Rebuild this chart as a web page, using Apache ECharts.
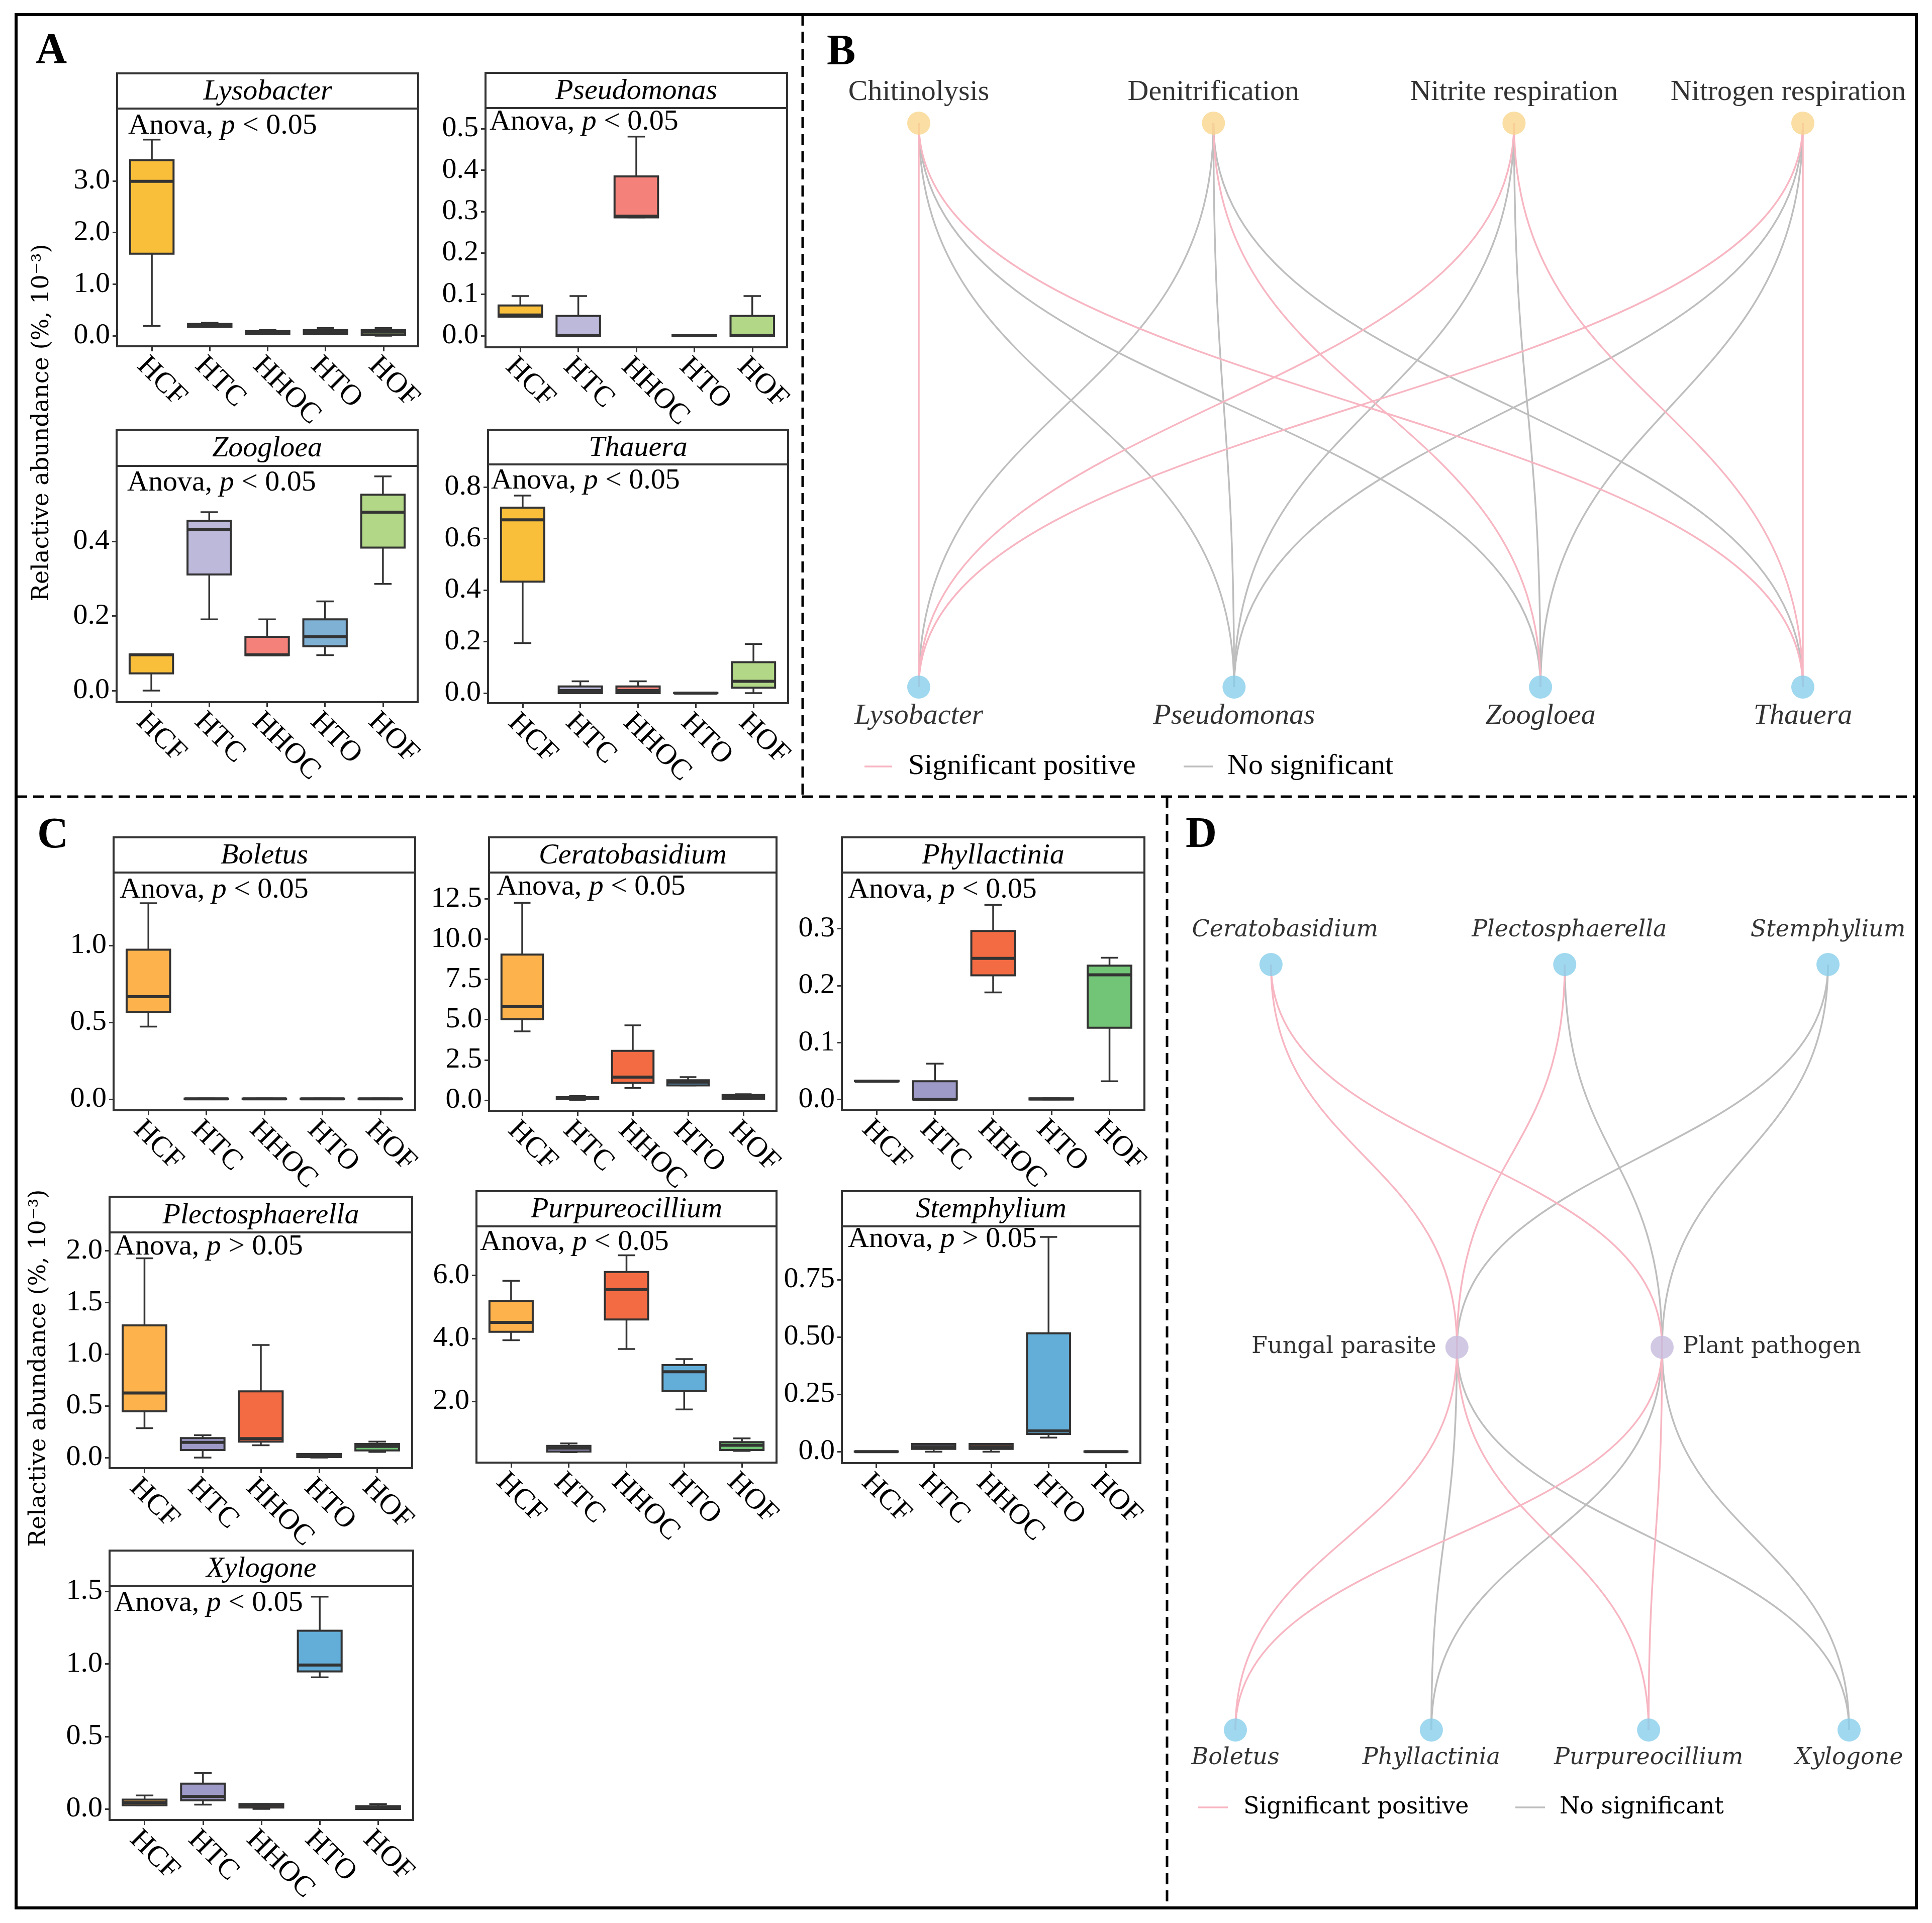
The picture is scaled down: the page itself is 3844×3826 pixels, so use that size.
<!DOCTYPE html>
<html><head><meta charset="utf-8">
<script src="https://cdn.jsdelivr.net/npm/echarts@6/dist/echarts.min.js"></script>
<style>html,body{margin:0;padding:0;background:#fff}#c{width:3844px;height:3826px}</style>
</head><body><div id="c"></div>
<script>
// ---------------- DATA ----------------
const groups = ['HCF', 'HTC', 'HHOC', 'HTO', 'HOF'];
// each row: [lower whisker, Q1, median, Q3, upper whisker]  (%, 10^-3)
const lysobacter = [[0.19,1.59,2.99,3.40,3.80],[0.17,0.17,0.20,0.23,0.25],[0.03,0.03,0.06,0.09,0.11],[0.03,0.03,0.07,0.11,0.15],[0.0,0.01,0.07,0.11,0.15]];
const pseudomonas = [[0.046,0.046,0.05,0.073,0.096],[0.0,0.0,0.001,0.048,0.096],[0.286,0.286,0.289,0.385,0.481],[0,0,0,0.001,0.001],[0.0,0.0,0.001,0.048,0.096]];
const zoogloea = [[0.0,0.046,0.096,0.097,0.097],[0.191,0.311,0.431,0.455,0.478],[0.095,0.095,0.096,0.144,0.191],[0.095,0.119,0.144,0.191,0.239],[0.286,0.383,0.478,0.525,0.574]];
const thauera = [[0.194,0.433,0.673,0.720,0.767],[0.0,0.0,0.01,0.026,0.046],[0.0,0.0,0.01,0.026,0.046],[0,0,0,0.001,0.001],[0.0,0.021,0.046,0.12,0.191]];
const boletus = [[0.472,0.567,0.667,0.972,1.275],[0,0,0.002,0.004,0.005],[0,0,0.002,0.004,0.005],[0,0,0.002,0.004,0.005],[0,0,0.002,0.004,0.005]];
const ceratobasidium = [[4.27,5.02,5.81,9.04,12.26],[0.02,0.06,0.12,0.18,0.25],[0.75,1.07,1.43,3.06,4.65],[0.92,0.92,1.11,1.24,1.43],[0.05,0.08,0.19,0.32,0.37]];
const phyllactinia = [[0.032,0.032,0.032,0.033,0.033],[0.0,0.0,0.0,0.032,0.063],[0.188,0.218,0.248,0.296,0.342],[0,0,0.001,0.002,0.002],[0.032,0.126,0.219,0.235,0.249]];
const plectosphaerella = [[0.284,0.447,0.624,1.278,1.927],[0.0,0.073,0.147,0.188,0.216],[0.119,0.154,0.183,0.64,1.089],[0.0,0.005,0.02,0.034,0.034],[0.055,0.069,0.108,0.131,0.154]];
const purpureocillium = [[3.94,4.21,4.51,5.19,5.83],[0.38,0.40,0.51,0.58,0.66],[3.66,4.60,5.55,6.11,6.64],[1.74,2.32,2.94,3.15,3.34],[0.42,0.45,0.60,0.70,0.82]];
const stemphylium = [[0,0,0,0.001,0.001],[0.0,0.012,0.022,0.033,0.033],[0.0,0.012,0.022,0.033,0.033],[0.061,0.077,0.09,0.516,0.936],[0,0,0,0.001,0.001]];
const xylogone = [[0.025,0.025,0.044,0.064,0.093],[0.030,0.059,0.086,0.174,0.247],[0.0,0.01,0.025,0.034,0.034],[0.907,0.948,0.992,1.229,1.464],[0.0,0.0,0.01,0.019,0.034]];

const panelNames = ['Lysobacter','Pseudomonas','Zoogloea','Thauera','Boletus','Ceratobasidium','Phyllactinia','Plectosphaerella','Purpureocillium','Stemphylium','Xylogone'];
const panelData = [lysobacter,pseudomonas,zoogloea,thauera,boletus,ceratobasidium,phyllactinia,plectosphaerella,purpureocillium,stemphylium,xylogone];
const anovaOps = ['<','<','<','<','<','<','<','>','<','>','<'];

// y tick values and labels
const yTicks = [[0,1,2,3],[0,0.1,0.2,0.3,0.4,0.5],[0,0.2,0.4],[0,0.2,0.4,0.6,0.8],[0,0.5,1.0],[0,2.5,5,7.5,10,12.5],[0,0.1,0.2,0.3],[0,0.5,1,1.5,2],[2,4,6],[0,0.25,0.5,0.75],[0,0.5,1,1.5]];
const yTickLabels = [['0.0','1.0','2.0','3.0'],['0.0','0.1','0.2','0.3','0.4','0.5'],['0.0','0.2','0.4'],['0.0','0.2','0.4','0.6','0.8'],['0.0','0.5','1.0'],['0.0','2.5','5.0','7.5','10.0','12.5'],['0.0','0.1','0.2','0.3'],['0.0','0.5','1.0','1.5','2.0'],['2.0','4.0','6.0'],['0.0','0.25','0.50','0.75'],['0.0','0.5','1.0','1.5']];

// networks
const bTop = ['Chitinolysis','Denitrification','Nitrite respiration','Nitrogen respiration'];
const bBottom = ['Lysobacter','Pseudomonas','Zoogloea','Thauera'];
// [top index, bottom index, significant(1)/not(0)]
const bEdges = [[0,1,0],[0,2,0],[1,0,0],[1,1,0],[1,3,0],[2,1,0],[2,2,0],[3,1,0],[3,2,0],[0,0,1],[0,3,1],[1,2,1],[2,0,1],[2,3,1],[3,0,1],[3,3,1]];
const dTop = ['Ceratobasidium','Plectosphaerella','Stemphylium'];
const dMid = ['Fungal parasite','Plant pathogen'];
const dBottom = ['Boletus','Phyllactinia','Purpureocillium','Xylogone'];
const dEdgesTop = [[1,1,0],[2,0,0],[2,1,0],[0,0,1],[0,1,1],[1,0,1]];
const dEdgesBottom = [[0,1,0],[0,3,0],[1,1,0],[1,3,0],[0,0,1],[0,2,1],[1,0,1],[1,2,1]];
const edgeLegend = ['Significant positive','No significant'];

// ---------------- LAYOUT / STYLE ----------------
const palA = ['#F9BF3B','#BDB9DB','#F4817A','#7FB1D5','#B2D887'];
const palC = ['#FDB24B','#9E9AC8','#F36B43','#63AED9','#72C476'];
const layout = [
  {l:233,t:216,r:832,b:689,st:146,ann:[255,251],ymin:-0.204,ymax:4.40,pal:palA},
  {l:966,t:215,r:1566,b:691,st:145,ann:[974,243],ymin:-0.028,ymax:0.550,pal:palA},
  {l:232,t:927,r:831,b:1397,st:855,ann:[253,961],ymin:-0.031,ymax:0.602,pal:palA},
  {l:971,t:924,r:1568,b:1399,st:855,ann:[977,957],ymin:-0.039,ymax:0.888,pal:palA},
  {l:226,t:1736,r:826,b:2209,st:1666,ann:[238,1771],ymin:-0.072,ymax:1.474,pal:palC},
  {l:973,t:1736,r:1545,b:2210,st:1666,ann:[988,1765],ymin:-0.66,ymax:14.14,pal:palC},
  {l:1675,t:1736,r:2277,b:2208,st:1666,ann:[1687,1771],ymin:-0.018,ymax:0.3986,pal:palC},
  {l:218,t:2452,r:820,b:2921,st:2381,ann:[227,2481],ymin:-0.102,ymax:2.177,pal:palC},
  {l:948,t:2440,r:1545,b:2910,st:2370,ann:[955,2472],ymin:0.05,ymax:7.56,pal:palC},
  {l:1675,t:2440,r:2269,b:2911,st:2370,ann:[1687,2466],ymin:-0.05,ymax:0.982,pal:palC},
  {l:218,t:3155,r:822,b:3621,st:3085,ann:[227,3190],ymin:-0.076,ymax:1.539,pal:palC}
];
const SERIF = 'Liberation Serif';
const WIDE = 'DejaVu Serif';
const PINK = '#F7B6C2', GRAY = '#BEBEBE';
const dark = '#333333';

const grids = [], xAxes = [], yAxes = [], series = [], graphics = [];

function nearestLabel(ticks, labels){
  return function(v){ let k=0,d=Infinity; ticks.forEach((t,i)=>{const e=Math.abs(t-v); if(e<d){d=e;k=i;}}); return labels[k]; };
}

function boxRenderer(pal){
  return function(params, api){
    const x = api.value(0);
    const lo=api.value(1), q1=api.value(2), md=api.value(3), q3=api.value(4), hi=api.value(5);
    const pLo=api.coord([x,lo]), pQ1=api.coord([x,q1]), pMd=api.coord([x,md]), pQ3=api.coord([x,q3]), pHi=api.coord([x,hi]);
    const bw = api.size([0.75,0])[0]/2, cw = api.size([0.3,0])[0]/2;
    const cx = pMd[0];
    const c = pal[Math.round(x)-1];
    return {type:'group', children:[
      {type:'line', shape:{x1:cx,y1:pLo[1],x2:cx,y2:pHi[1]}, style:{stroke:dark,lineWidth:3.5}},
      {type:'line', shape:{x1:cx-cw,y1:pHi[1],x2:cx+cw,y2:pHi[1]}, style:{stroke:dark,lineWidth:3.5}},
      {type:'line', shape:{x1:cx-cw,y1:pLo[1],x2:cx+cw,y2:pLo[1]}, style:{stroke:dark,lineWidth:3.5}},
      {type:'rect', shape:{x:cx-bw,y:pQ3[1],width:2*bw,height:Math.max(pQ1[1]-pQ3[1],0.5)}, style:{fill:c,stroke:dark,lineWidth:4}},
      {type:'line', shape:{x1:cx-bw,y1:pMd[1],x2:cx+bw,y2:pMd[1]}, style:{stroke:dark,lineWidth:6}}
    ]};
  };
}

panelNames.forEach((name, k) => {
  const L = layout[k];
  grids.push({left:L.l, top:L.t, width:L.r-L.l, height:L.b-L.t, show:true, borderColor:dark, borderWidth:4, backgroundColor:'transparent'});
  xAxes.push({gridIndex:k, type:'value', min:0.4, max:5.6, position:'bottom',
    axisLine:{show:false, onZero:false}, splitLine:{show:false},
    axisTick:{show:true, customValues:[1,2,3,4,5], length:10, lineStyle:{color:dark,width:3}},
    axisLabel:{show:true, customValues:[0.822,1.822,2.822,3.822,4.822], rotate:-45, margin:30,
      formatter:(v)=>groups[Math.round(v)-1], fontFamily:SERIF, fontSize:58, color:'#000'}});
  yAxes.push({gridIndex:k, type:'value', min:L.ymin, max:L.ymax, position:'left',
    axisLine:{show:false, onZero:false}, splitLine:{show:false},
    axisTick:{show:true, customValues:yTicks[k], length:9, lineStyle:{color:dark,width:3}},
    axisLabel:{show:true, customValues:yTicks[k], margin:14, formatter:nearestLabel(yTicks[k], yTickLabels[k]),
      fontFamily:SERIF, fontSize:58, color:'#000'}});
  series.push({type:'custom', xAxisIndex:k, yAxisIndex:k, clip:false, renderItem:boxRenderer(L.pal),
    encode:{x:0,y:[1,2,3,4,5]},
    data: panelData[k].map((r,i)=>[i+1].concat(r))});
  // strip
  graphics.push({type:'rect', z:5, shape:{x:L.l,y:L.st,width:L.r-L.l,height:L.t-L.st}, style:{fill:'#fff',stroke:dark,lineWidth:4}});
  graphics.push({type:'text', z:6, x:(L.l+L.r)/2, y:(L.st+L.t)/2+2, style:{text:name, fontFamily:SERIF, fontStyle:'italic', fontSize:58, fill:'#000', align:'center', verticalAlign:'middle'}});
  // annotation
  graphics.push({type:'text', z:6, x:L.ann[0], y:L.ann[1], style:{text:'{a|Anova, }{b|p}{a| '+anovaOps[k]+' 0.05}',
    rich:{a:{fontFamily:SERIF,fontSize:58,fill:'#000'}, b:{fontFamily:SERIF,fontStyle:'italic',fontSize:58,fill:'#000'}},
    align:'left', verticalAlign:'middle'}});
});

// ---------- network B ----------
const gB = grids.length;
grids.push({left:1828, top:245, width:1759, height:1122, show:false});
xAxes.push({gridIndex:gB, type:'value', min:0, max:3, show:false});
yAxes.push({gridIndex:gB, type:'value', min:0, max:1, show:false});
const bTopX = [0, 1, 2.02, 3], bBottomX = [0, 1.07, 2.11, 3];
// ---------- network D ----------
const gD = grids.length;
grids.push({left:2458, top:1919, width:1221, height:1523, show:false});
xAxes.push({gridIndex:gD, type:'value', min:0, max:3, show:false});
yAxes.push({gridIndex:gD, type:'value', min:0, max:2, show:false});
const dTopX = [0.174, 1.61, 2.897], dMidX = [1.083, 2.086], dBottomX = [0, 0.958, 2.02, 3];

function edgeRenderer(params, api){
  const p1 = api.coord([api.value(0), api.value(1)]);
  const p2 = api.coord([api.value(2), api.value(3)]);
  const ym = (p1[1]+p2[1])/2;
  return {type:'bezierCurve', shape:{x1:p1[0],y1:p1[1],x2:p2[0],y2:p2[1],cpx1:p1[0],cpy1:ym,cpx2:p2[0],cpy2:ym},
    style:{stroke: api.value(4) ? PINK : GRAY, lineWidth:3.5, fill:'none'}};
}
series.push({type:'custom', xAxisIndex:gB, yAxisIndex:gB, clip:false, z:2, renderItem:edgeRenderer, encode:{x:[0,2],y:[1,3]},
  data: bEdges.map(e=>[bTopX[e[0]],1,bBottomX[e[1]],0,e[2]])});
series.push({type:'custom', xAxisIndex:gD, yAxisIndex:gD, clip:false, z:2, renderItem:edgeRenderer, encode:{x:[0,2],y:[1,3]},
  data: dEdgesTop.map(e=>[dTopX[e[0]],2,dMidX[e[1]],1,e[2]]).concat(dEdgesBottom.map(e=>[dMidX[e[0]],1,dBottomX[e[1]],0,e[2]]))});

const bLabelTop = {show:true, position:'top', distance:9, formatter:'{b}', fontFamily:SERIF, fontSize:58, color:'#000'};
const bLabelBot = {show:true, position:'bottom', distance:6, formatter:'{b}', fontFamily:SERIF, fontStyle:'italic', fontSize:58, color:'#000'};
series.push({type:'scatter', xAxisIndex:gB, yAxisIndex:gB, clip:false, z:5, symbolSize:46, silent:true,
  itemStyle:{color:'#F9D68C'},
  data: bTop.map((n,i)=>({name:n, value:[bTopX[i],1], label: Object.assign({}, bLabelTop, i===3?{offset:[-29,0]}:{})}))});
series.push({type:'scatter', xAxisIndex:gB, yAxisIndex:gB, clip:false, z:5, symbolSize:46, silent:true,
  itemStyle:{color:'#87CEEB'},
  data: bBottom.map((n,i)=>({name:n, value:[bBottomX[i],0], label:bLabelBot}))});

const dTopOffsets = [[28,0],[9,0],[0,0]];
series.push({type:'scatter', xAxisIndex:gD, yAxisIndex:gD, clip:false, z:5, symbolSize:46, silent:true,
  itemStyle:{color:'#87CEEB'},
  data: dTop.map((n,i)=>({name:n, value:[dTopX[i],2], label:{show:true, position:'top', distance:22, offset:dTopOffsets[i], formatter:'{b}', fontFamily:WIDE, fontStyle:'italic', fontSize:46, color:'#000'}}))});
series.push({type:'scatter', xAxisIndex:gD, yAxisIndex:gD, clip:false, z:5, symbolSize:46, silent:true,
  itemStyle:{color:'#C5BBDD'},
  data: dMid.map((n,i)=>({name:n, value:[dMidX[i],1], label:{show:true, position: i===0?'left':'right', distance:18, formatter:'{b}', fontFamily:WIDE, fontSize:46, color:'#000'}}))});
series.push({type:'scatter', xAxisIndex:gD, yAxisIndex:gD, clip:false, z:5, symbolSize:46, silent:true,
  itemStyle:{color:'#87CEEB'},
  data: dBottom.map((n,i)=>({name:n, value:[dBottomX[i],0], label:{show:true, position:'bottom', distance:10, formatter:'{b}', fontFamily:WIDE, fontStyle:'italic', fontSize:46, color:'#000'}}))});

// ---------- frame, separators, letters, titles, legends ----------
graphics.push({type:'rect', z:20, shape:{x:32,y:29,width:3781,height:3767}, style:{fill:'none',stroke:'#000',lineWidth:6}});
graphics.push({type:'line', z:20, shape:{x1:1597,y1:29,x2:1597,y2:1585}, style:{stroke:'#000',lineWidth:5,lineDash:[22,12]}});
graphics.push({type:'line', z:20, shape:{x1:32,y1:1585,x2:3813,y2:1585}, style:{stroke:'#000',lineWidth:5,lineDash:[22,12]}});
graphics.push({type:'line', z:20, shape:{x1:2322,y1:1585,x2:2322,y2:3796}, style:{stroke:'#000',lineWidth:5,lineDash:[22,12]}});
[['A',71,103],['B',1645,106],['C',74,1664],['D',2359,1663]].forEach(a=>{
  graphics.push({type:'text', z:20, x:a[1], y:a[2], style:{text:a[0], fontFamily:SERIF, fontWeight:'bold', fontSize:86, fill:'#000', align:'left', verticalAlign:'middle'}});
});
const yTitle = 'Relactive abundance (%, 10\u207B\u00B3)';
[[84,841],[78,2722]].forEach(p=>{
  graphics.push({type:'text', z:20, x:p[0], y:p[1], rotation:Math.PI/2, style:{text:yTitle, fontFamily:WIDE, fontSize:46, fill:'#000', align:'center', verticalAlign:'middle'}});
});
// legend B
graphics.push({type:'line', z:20, shape:{x1:1720,y1:1525,x2:1775,y2:1525}, style:{stroke:PINK,lineWidth:3.5}});
graphics.push({type:'text', z:20, x:1807, y:1525, style:{text:edgeLegend[0], fontFamily:SERIF, fontSize:58, fill:'#000', align:'left', verticalAlign:'middle'}});
graphics.push({type:'line', z:20, shape:{x1:2355,y1:1525,x2:2413,y2:1525}, style:{stroke:GRAY,lineWidth:3.5}});
graphics.push({type:'text', z:20, x:2442, y:1525, style:{text:edgeLegend[1], fontFamily:SERIF, fontSize:58, fill:'#000', align:'left', verticalAlign:'middle'}});
// legend D
graphics.push({type:'line', z:20, shape:{x1:2384,y1:3596,x2:2443,y2:3596}, style:{stroke:PINK,lineWidth:3.5}});
graphics.push({type:'text', z:20, x:2474, y:3596, style:{text:edgeLegend[0], fontFamily:WIDE, fontSize:46, fill:'#000', align:'left', verticalAlign:'middle'}});
graphics.push({type:'line', z:20, shape:{x1:3015,y1:3596,x2:3074,y2:3596}, style:{stroke:GRAY,lineWidth:3.5}});
graphics.push({type:'text', z:20, x:3103, y:3596, style:{text:edgeLegend[1], fontFamily:WIDE, fontSize:46, fill:'#000', align:'left', verticalAlign:'middle'}});

const chart = echarts.init(document.getElementById('c'), null, {width:3844, height:3826});
chart.setOption({
  animation:false, backgroundColor:'#fff',
  grid:grids, xAxis:xAxes, yAxis:yAxes, series:series, graphic:graphics
});
</script></body></html>
